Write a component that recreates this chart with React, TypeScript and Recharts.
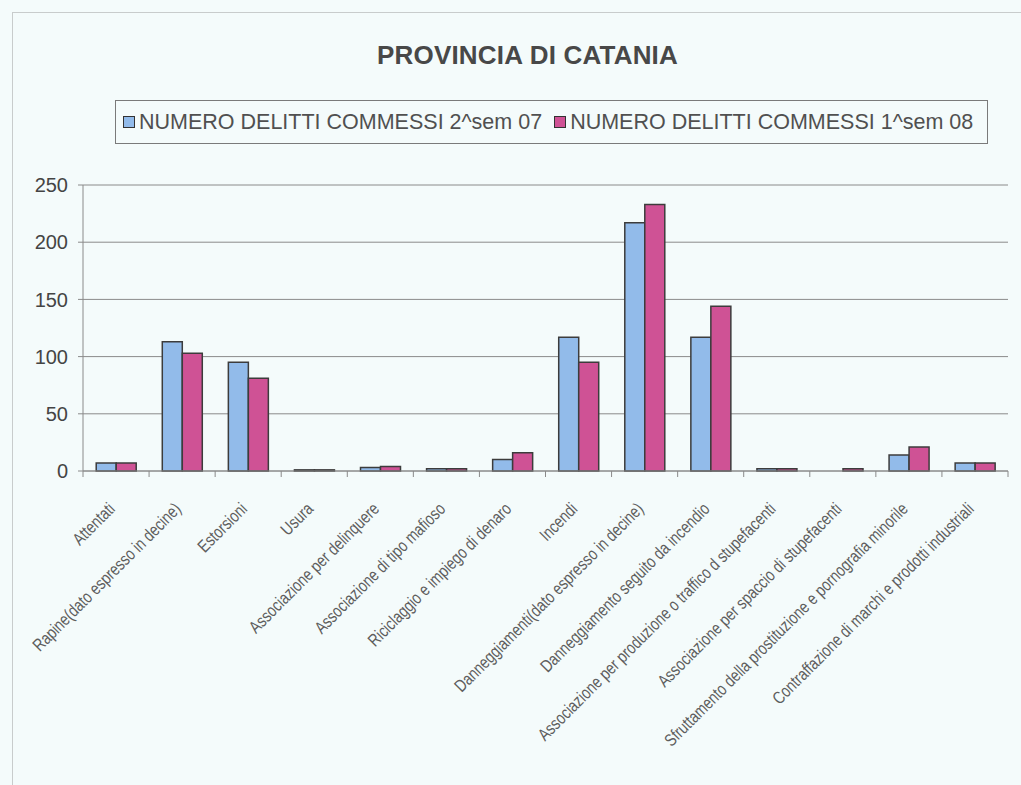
import { Bar, BarChart, CartesianGrid, XAxis, YAxis } from "recharts";

const categories = [
  "Attentati",
  "Rapine(dato espresso in decine)",
  "Estorsioni",
  "Usura",
  "Associazione per delinquere",
  "Associazione di tipo mafioso",
  "Riciclaggio e impiego di denaro",
  "Incendi",
  "Danneggiamenti(dato espresso in decine)",
  "Danneggiamento seguito da incendio",
  "Associazione per produzione o traffico d stupefacenti",
  "Associazione per spaccio di stupefacenti",
  "Sfruttamento della prostituzione e pornografia minorile",
  "Contraffazione di marchi e prodotti industriali"
];

const sem2_07 = [7, 113, 95, 1, 3, 2, 10, 117, 217, 117, 2, 0, 14, 7];
const sem1_08 = [7, 103, 81, 1, 4, 2, 16, 95, 233, 144, 2, 2, 21, 7];

const seriesNames = [
  "NUMERO DELITTI COMMESSI 2^sem 07",
  "NUMERO DELITTI COMMESSI 1^sem 08"
];
const seriesColors = ["#92bbea", "#cf5295"];

const yTicks = [0, 50, 100, 150, 200, 250];

const data = categories.map((name, i) => ({
  name,
  sem2_07: sem2_07[i],
  sem1_08: sem1_08[i]
}));

const W = 1021;
const H = 785;
const PLOT_LEFT = 83;
const PLOT_RIGHT = 1008;
const STEP = (PLOT_RIGHT - PLOT_LEFT) / categories.length;

const labelFont = "'Liberation Sans Narrow', 'Liberation Sans', Arial, sans-serif";
const mainFont = "'Liberation Sans', Arial, sans-serif";

function CategoryTick(props: any) {
  const { x, y, payload, index } = props;
  const half = STEP / 2;
  const ax = x;
  const ay = y + 39;
  return (
    <g>
      <line x1={x - half} y1={y} x2={x - half} y2={y + 6} stroke="#8a8a8a" />
      {index === categories.length - 1 ? (
        <line x1={x + half} y1={y} x2={x + half} y2={y + 6} stroke="#8a8a8a" />
      ) : null}
      <text
        x={0}
        y={0}
        transform={`translate(${ax},${ay}) rotate(-45) scale(0.8,1)`}
        textAnchor="end"
        fill="#5e5e5e"
        fontSize={17.5}
        fontFamily={labelFont}
      >
        {payload.value}
      </text>
    </g>
  );
}

export default function App() {
  return (
    <div
      style={{
        position: "absolute",
        left: 0,
        top: 0,
        width: W,
        height: H,
        background: "#f4fbfb",
        overflow: "hidden"
      }}
    >
      <div
        style={{
          position: "absolute",
          left: 12,
          top: 12,
          right: -2,
          bottom: -2,
          borderLeft: "1px solid #c8cccc",
          borderTop: "1px solid #c8cccc"
        }}
      />
      <div
        style={{
          position: "absolute",
          top: 40,
          left: 375,
          width: 305,
          textAlign: "center",
          fontFamily: mainFont,
          fontWeight: "bold",
          fontSize: 26,
          letterSpacing: 0.2,
          color: "#484848",
          whiteSpace: "nowrap"
        }}
      >
        PROVINCIA DI CATANIA
      </div>
      <div
        style={{
          position: "absolute",
          top: 100,
          left: 115,
          width: 873,
          height: 44,
          boxSizing: "border-box",
          border: "1px solid #7a7a7a",
          display: "flex",
          alignItems: "center",
          paddingLeft: 7,
          fontFamily: mainFont,
          fontSize: 21.5,
          color: "#505050",
          whiteSpace: "nowrap"
        }}
      >
        {seriesNames.map((n, i) => (
          <span
            key={n}
            style={{ display: "inline-flex", alignItems: "center", marginRight: i === 0 ? 12 : 0 }}
          >
            <span
              style={{
                display: "inline-block",
                width: 10,
                height: 10,
                background: seriesColors[i],
                border: "1px solid #333",
                marginRight: 4
              }}
            />
            {n}
          </span>
        ))}
      </div>
      <BarChart
        width={W}
        height={H}
        data={data}
        margin={{ top: 185, right: W - PLOT_RIGHT, left: 0, bottom: 0 }}
        barCategoryGap="20%"
        barGap={0}
      >
        <CartesianGrid vertical={false} stroke="#8a8a8a" />
        <XAxis
          dataKey="name"
          interval={0}
          height={314}
          tickLine={false}
          tickSize={0}
          tickMargin={0}
          axisLine={{ stroke: "#8a8a8a" }}
          tick={<CategoryTick />}
        />
        <YAxis
          width={PLOT_LEFT}
          domain={[0, 250]}
          ticks={yTicks}
          interval={0}
          tickSize={5}
          tickMargin={10}
          axisLine={{ stroke: "#8a8a8a" }}
          tickLine={{ stroke: "#8a8a8a" }}
          tick={{ fill: "#444", fontSize: 20, fontFamily: mainFont }}
        />
        <Bar
          dataKey="sem2_07"
          name={seriesNames[0]}
          fill={seriesColors[0]}
          stroke="#3c3c3c"
          strokeWidth={1.5}
          isAnimationActive={false}
        />
        <Bar
          dataKey="sem1_08"
          name={seriesNames[1]}
          fill={seriesColors[1]}
          stroke="#3c3c3c"
          strokeWidth={1.5}
          isAnimationActive={false}
        />
      </BarChart>
    </div>
  );
}
